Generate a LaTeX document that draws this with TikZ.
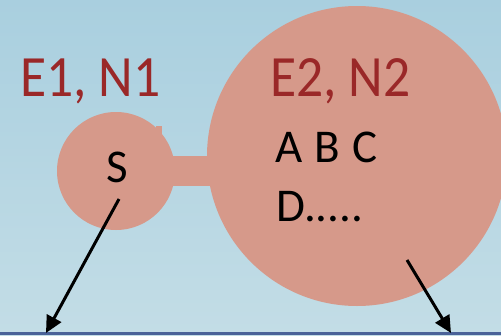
\documentclass[tikz,border=0pt]{standalone}
\usepackage{fontspec}
\setmainfont{Carlito}
\usetikzlibrary{arrows.meta}
\definecolor{bgtop}{HTML}{A9CFDF}
\definecolor{bgbot}{HTML}{C3DDE6}
\definecolor{blob}{HTML}{D6998A}
\definecolor{lbl}{HTML}{9A2828}
\definecolor{baseln}{HTML}{4A6298}
\tikzset{
  blobfill/.style={fill=blob, draw=none},
  titletext/.style={text=lbl, font=\fontsize{58.5}{62}\selectfont, inner sep=0pt, anchor=base west, xscale=0.915},
  bodytext/.style={text=black, font=\fontsize{47}{50}\selectfont, inner sep=0pt, anchor=base west},
  arrowln/.style={line width=3pt, -{Triangle[length=17pt,width=16pt]}}
}
\begin{document}
\begin{tikzpicture}[x=1pt,y=-1pt]
\useasboundingbox (0,0) rectangle (501,335);
\shade[top color=bgtop, bottom color=bgbot] (0,0) rectangle (501,335);
% bridge
\fill[blob] (170,156) rectangle (212,186);
\fill[blob] (156,126) rectangle (162,134);
\node[circle, blobfill, minimum size=118pt, inner sep=0pt] (c1) at (116,171) {};
\node[circle, blobfill, minimum size=300pt, inner sep=0pt] (c2) at (357,156) {};
\node[titletext] (t1) at (20,96) {E1, N1};
\node[titletext] (t2) at (270,96) {E2, N2};
\node[bodytext] (s) at (106,182) {S};
\node[bodytext] (abc) at (275,162) {A\hspace{1.5pt} B\hspace{1.5pt} C};
\node[bodytext] (d) at (276,221) {D.....};
\fill[baseln] (0,332) rectangle (501,335);
\coordinate (a1s) at (119,199);
\coordinate (a1e) at (46,333);
\coordinate (a2s) at (407,260);
\coordinate (a2e) at (451,333);
\draw[arrowln] (a1s) -- (a1e);
\draw[arrowln] (a2s) -- (a2e);
\end{tikzpicture}
\end{document}
